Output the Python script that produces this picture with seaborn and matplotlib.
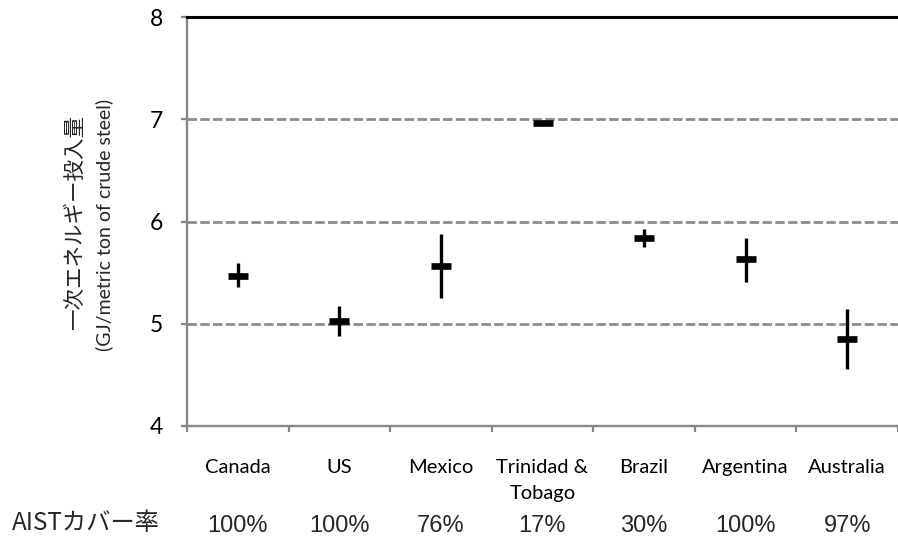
import numpy as np
import pandas as pd
import matplotlib
matplotlib.use("Agg")
import matplotlib.pyplot as plt
import matplotlib.transforms as mtransforms
import seaborn as sns

countries = ["Canada", "US", "Mexico", "Trinidad &\nTobago", "Brazil", "Argentina", "Australia"]
mean_vals = [5.47, 5.03, 5.56, 6.96, 5.84, 5.63, 4.85]
low_vals = [5.36, 4.88, 5.25, 6.96, 5.75, 5.41, 4.56]
high_vals = [5.59, 5.17, 5.88, 6.96, 5.93, 5.84, 5.14]
coverage = ["100%", "100%", "76%", "17%", "30%", "100%", "97%"]
y_ticks = [4, 5, 6, 7, 8]

sns.set_theme(style="white")
plt.rcParams["font.family"] = ["Lato", "Noto Sans CJK JP", "DejaVu Sans"]

df = pd.DataFrame({
    "pos": np.arange(len(countries)),
    "mean": mean_vals,
    "low": low_vals,
    "high": high_vals,
})

fig = plt.figure(figsize=(8.98, 5.38), dpi=100)
ax = fig.add_axes([187 / 898, 1 - 426 / 538, 711 / 898, 409 / 538])

gray = "#878787"

# gridlines
ax.set_axisbelow(True)
ax.yaxis.grid(True, color="#8c8c8c", linewidth=2.0, linestyle=(0, (3.4, 1.2)))

# ranges
ax.errorbar(df["pos"], df["mean"],
            yerr=[df["mean"] - df["low"], df["high"] - df["mean"]],
            fmt="none", ecolor="black", elinewidth=2.4, capsize=0, zorder=3)
# mean dashes
sns.scatterplot(data=df, x="pos", y="mean", marker="_", s=14 ** 2,
                color="black", linewidth=4.8, ax=ax, zorder=4, legend=False)

ax.set_xlim(-0.5, len(countries) - 0.5)
ax.set_ylim(4, 8)

# spines
ax.spines["right"].set_visible(False)
ax.spines["top"].set_visible(True)
ax.spines["top"].set_color("black")
ax.spines["top"].set_linewidth(2.2)
ax.spines["top"].set_zorder(5)
for s in ["left", "bottom"]:
    ax.spines[s].set_color(gray)
    ax.spines[s].set_linewidth(1.7)

# y ticks
ax.set_yticks(y_ticks)
ax.set_yticklabels([str(v) for v in y_ticks], fontsize=16.5, color="black")
ax.tick_params(axis="y", which="major", direction="out", length=4.5, width=1.6,
               color=gray, pad=13, left=True)

# x ticks
ax.set_xticks(df["pos"])
ax.set_xticklabels(countries, fontsize=14.5, color="black", linespacing=1.6)
ax.set_xticks(np.arange(len(countries) + 1) - 0.5, minor=True)
ax.tick_params(axis="x", which="major", length=0, pad=24)
ax.tick_params(axis="x", which="minor", direction="out", length=4.5, width=1.6,
               color=gray, bottom=True)
ax.set_xlabel("")
ax.set_ylabel("")

# y label (two lines)
fig.text(75 / 898, 1 - 222 / 538, "一次エネルギー投入量", rotation=90,
         ha="center", va="center", fontsize=15.5,
         family=["Noto Sans CJK JP", "DejaVu Sans"])
fig.text(104 / 898, 1 - 225 / 538, "(GJ/metric ton of crude steel)", rotation=90,
         ha="center", va="center", fontsize=14,
         family=["Lato", "DejaVu Sans"])

# coverage row
row_y = 1 - 532 / 538
trans = mtransforms.blended_transform_factory(ax.transData, fig.transFigure)
for i, c in enumerate(coverage):
    ax.text(i, row_y, c, transform=trans, ha="center", va="baseline",
            fontsize=17, family=["Liberation Sans", "DejaVu Sans"])
fig.text(12 / 898, 1 - 530 / 538, "AISTカバー率", ha="left", va="baseline",
         fontsize=17.5, family=["Noto Sans CJK JP", "DejaVu Sans"])

fig.savefig("out.png", dpi=100)
